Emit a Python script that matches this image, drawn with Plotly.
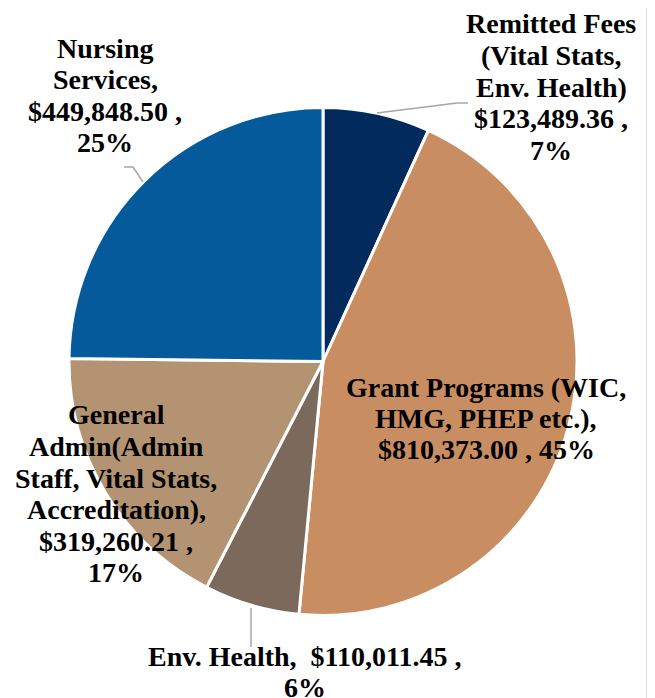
import plotly.graph_objects as go

# slices, clockwise from 12 o'clock
categories = ["Remitted Fees (Vital Stats, Env. Health)",
              "Grant Programs (WIC, HMG, PHEP etc.)",
              "Env. Health",
              "General Admin(Admin Staff, Vital Stats, Accreditation)",
              "Nursing Services"]
amounts = [123489.36, 810373.00, 110011.45, 319260.21, 449848.50]
pct_labels = ["7%", "45%", "6%", "17%", "25%"]
colors = ["#022a5c", "#c98d62", "#7b695c", "#b39371", "#045a9b"]

# label line breaks as in the source chart ({v} = amount, {p} = percent)
label_templates = [
    ["Remitted Fees", "(Vital Stats,", "Env. Health)", "{v} ,", "{p}"],
    ["Grant Programs (WIC,", "HMG, PHEP etc.),", "{v} , {p}"],
    ["Env. Health,  {v} ,", "{p}"],
    ["General", "Admin(Admin", "Staff, Vital Stats,", "Accreditation),", "{v} ,", "{p}"],
    ["Nursing", "Services,", "{v} ,", "{p}"],
]
# label centre x and first-line y, in screen pixels
label_pos = [(551, 24), (486, 387), (305, 656), (116, 415), (105, 48)]
LINE_STEP = 31.5

# page has an 8px body margin, so canvas coords = screen coords - 8
OFF = 8
W, H = 655, 698
CX, CY, R = 323 - OFF, 361.5 - OFF, 254


def px(x):
    return (x - OFF) / W


def py(y):
    return 1 - (y - OFF) / H


fig = go.Figure()
fig.add_trace(go.Pie(
    labels=categories, values=amounts, sort=False, direction="clockwise",
    rotation=0, textinfo="none", hoverinfo="label+value+percent",
    marker=dict(colors=colors, line=dict(color="white", width=3)),
    domain=dict(x=[(CX - R) / W, (CX + R) / W], y=[1 - (CY + R) / H, 1 - (CY - R) / H]),
    showlegend=False,
))

for lines, (lx, ly), v, p in zip(label_templates, label_pos, amounts, pct_labels):
    for i, line in enumerate(lines):
        txt = line.format(v="${:,.2f}".format(v), p=p)
        fig.add_annotation(x=px(lx), y=py(ly + i * LINE_STEP), xref="paper", yref="paper",
                           text="<b>" + txt + "</b>", showarrow=False,
                           xanchor="center", yanchor="middle",
                           font=dict(family="Liberation Serif", size=28, color="black"))

# leader lines
leaders = [
    [(377, 113), (457, 103), (468, 103)],
    [(143, 182), (133, 167), (124, 167)],
    [(251, 608), (251, 647)],
]
for pts in leaders:
    path = "M " + " L ".join("{},{}".format(px(x), py(y)) for x, y in pts)
    fig.add_shape(type="path", path=path, xref="paper", yref="paper",
                  line=dict(color="#a6a6a6", width=1.5))

# chart-area border on the right
fig.add_shape(type="line", x0=px(647), x1=px(647), y0=0, y1=1, xref="paper", yref="paper",
              line=dict(color="#d9d9d9", width=2))

fig.update_layout(width=W, height=H, margin=dict(l=0, r=0, t=0, b=0),
                  paper_bgcolor="white", plot_bgcolor="white",
                  font=dict(family="Liberation Serif"))
fig.write_html("out.html")
